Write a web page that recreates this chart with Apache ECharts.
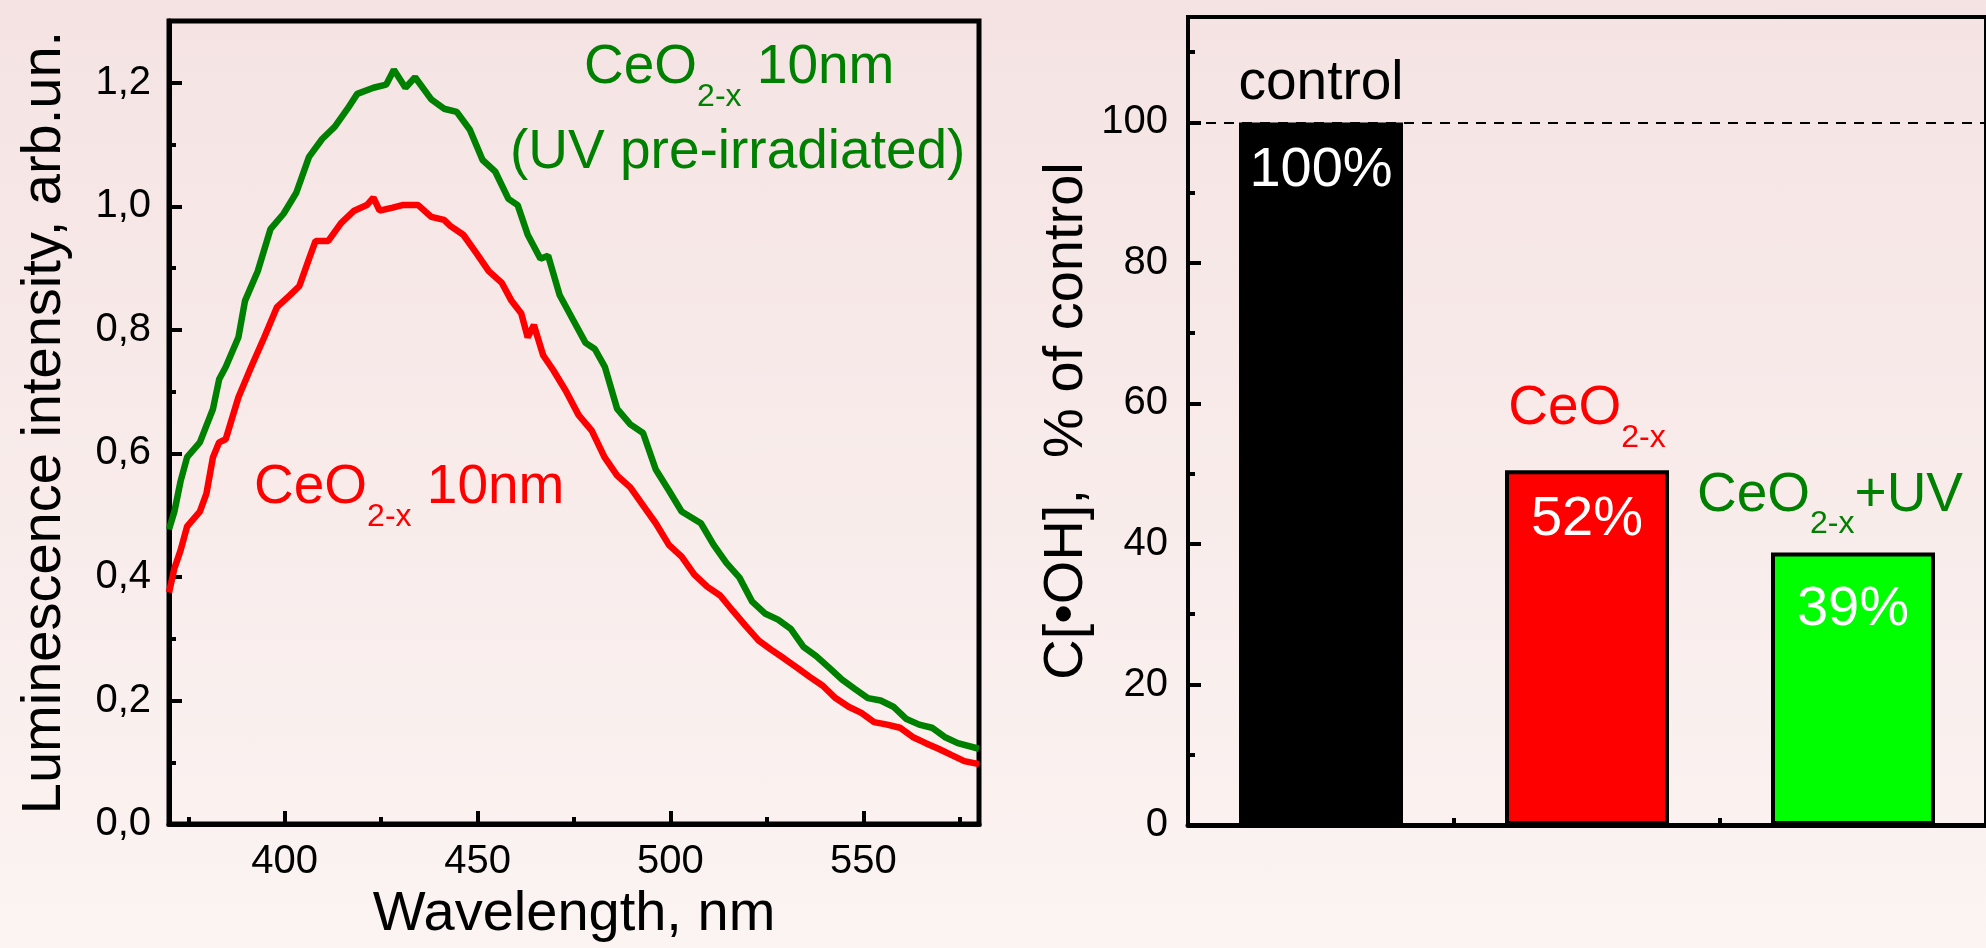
<!DOCTYPE html>
<html>
<head>
<meta charset="utf-8">
<script src="https://cdn.jsdelivr.net/npm/echarts@6/dist/echarts.min.js"></script>
<style>
html,body{margin:0;padding:0;}
body{background:linear-gradient(to bottom,#f5e3e3,#fbf4f2);}
#chart{width:1986px;height:948px;}
</style>
</head>
<body>
<div id="chart"></div>
<script>
// ---------- data ----------
const wlGreen = [370,371.4,373,374.7,378,381.4,383,384.7,388,389.7,393,396.3,399.7,403,406.3,409.7,413,416.3,418.8,423,426.3,428.3,431.3,433.8,438,441.3,444.6,448,451.3,454.6,458,460.4,463,466.3,468.3,471.3,474.6,478,480.4,483,486.2,489.6,492.9,496.2,499.6,502.9,507.9,511.2,514.5,517.9,521.2,524.5,527.9,531.2,534.5,537.8,541.2,544.5,547.8,551.2,554.5,557.8,561.2,564.5,567.8,571.1,574.5,580];
const valGreen = [0.477,0.506,0.555,0.594,0.618,0.672,0.72,0.74,0.788,0.847,0.895,0.963,0.988,1.022,1.080,1.109,1.129,1.158,1.182,1.192,1.197,1.221,1.192,1.209,1.173,1.158,1.153,1.124,1.075,1.056,1.012,1.002,0.954,0.915,0.92,0.856,0.818,0.779,0.769,0.74,0.672,0.647,0.633,0.574,0.540,0.506,0.487,0.452,0.423,0.399,0.360,0.341,0.331,0.316,0.287,0.272,0.253,0.234,0.219,0.204,0.2,0.19,0.17,0.161,0.156,0.141,0.131,0.122];
const wlRed = [370,371.4,373,374.7,378,379.7,381.4,383,384.7,388,391.3,394.7,398,401.3,403.8,406.3,408,411.3,414.6,418,421.3,423,424.6,428,430.5,434.6,438,441.3,443,446.3,449.6,452.9,456.3,458.8,461.3,463,464.6,467,469.6,472.9,476.2,479.6,482.9,486.2,489.6,492.9,496.2,499.6,502.9,506.2,509.6,512.9,516.2,519.5,522.9,526.2,529.5,532.9,536.2,539.5,542.8,546.2,549.5,552.8,556.2,559.5,562.8,566.2,569.5,572.8,576.2,580];
const valRed = [0.375,0.414,0.443,0.482,0.506,0.535,0.594,0.618,0.623,0.691,0.74,0.788,0.837,0.856,0.871,0.915,0.944,0.944,0.973,0.993,1.002,1.014,0.993,0.998,1.002,1.002,0.983,0.978,0.968,0.954,0.925,0.895,0.876,0.847,0.827,0.788,0.808,0.759,0.735,0.701,0.662,0.637,0.594,0.564,0.545,0.516,0.487,0.452,0.433,0.404,0.384,0.370,0.345,0.321,0.297,0.282,0.268,0.253,0.238,0.224,0.204,0.19,0.18,0.165,0.161,0.156,0.141,0.131,0.122,0.112,0.102,0.097];

const xMajorTicks = [400,450,500,550];
const xMinorTicks = [375,425,475,525,575];
const yMajorTicks = [0,0.2,0.4,0.6,0.8,1.0,1.2];
const yMinorTicks = [0.1,0.3,0.5,0.7,0.9,1.1];

const barCategories = ['control','CeO2-x','CeO2-x+UV'];
const barValues = [100,50.5,38.8];
const barPctLabels = ['100%','52%','39%'];
const barYMajorTicks = [0,20,40,60,80,100];
const barYMinorTicks = [10,30,50,70,90,110];
const referenceLevel = 100;

// ---------- styles ----------
const FONT = '"Liberation Sans", Arial, Helvetica, sans-serif';
const barColors = ['#000000','#ff0000','#00ff00'];
const nameColors = ['#000000','#ff0000','#008000'];
const nameRichText = ['{m|control}','{m|CeO}{s|2-x}','{m|CeO}{s|2-x}{m|+UV}'];
const nameDistances = [9,31,27];
const nameOffsets = [[0,0],[0,0],[-23,0]];
const pctDistances = [18,19,27.5];

// rich styles for series labels (ECharts option style)
function rich(color){
  return {
    m:{fontSize:55,lineHeight:60,color:color,fontFamily:FONT},
    s:{fontSize:32,lineHeight:60,padding:[58,0,0,0],color:color,fontFamily:FONT}
  };
}
// rich styles for graphic text elements (zrender style)
function richG(color){
  return {
    m:{fontSize:55,lineHeight:60,fill:color,fontFamily:FONT},
    s:{fontSize:32,lineHeight:60,padding:[58,0,0,0],fill:color,fontFamily:FONT}
  };
}
const axisLineStyle = {show:true,lineStyle:{color:'#000',width:5}};
const labelStyle = {color:'#000',fontSize:40,fontFamily:FONT};
const nameStyle = {color:'#000',fontSize:56,fontFamily:FONT};

const chart = echarts.init(document.getElementById('chart'), null, {renderer:'canvas'});

const option = {
  backgroundColor:'transparent',
  animation:false,
  grid:[
    {left:169,top:21,width:810,height:808,show:true,borderColor:'#000',borderWidth:5,backgroundColor:'transparent'},
    {left:1188,top:17,width:810,height:808,show:true,borderColor:'#000',borderWidth:4,backgroundColor:'transparent'}
  ],
  xAxis:[
    {type:'value',gridIndex:0,min:370,max:580,position:'bottom',
     axisLine:axisLineStyle,
     axisTick:{show:true,inside:true,length:13,lineStyle:{color:'#000',width:4},customValues:xMajorTicks},
     axisLabel:Object.assign({show:true,margin:18,customValues:xMajorTicks},labelStyle),
     splitLine:{show:false},
     name:'Wavelength, nm',nameLocation:'middle',nameGap:58,nameTextStyle:nameStyle},
    {type:'value',gridIndex:0,min:370,max:580,position:'bottom',
     axisLine:{show:false},
     axisTick:{show:true,inside:true,length:7,lineStyle:{color:'#000',width:4},customValues:xMinorTicks},
     axisLabel:{show:false},splitLine:{show:false}},
    {type:'category',gridIndex:1,data:barCategories,position:'bottom',boundaryGap:true,
     axisLine:axisLineStyle,
     axisTick:{show:true,inside:true,length:7,alignWithLabel:false,lineStyle:{color:'#000',width:4}},
     axisLabel:{show:false},splitLine:{show:false}}
  ],
  yAxis:[
    {type:'value',gridIndex:0,min:0,max:1.3,position:'left',
     axisLine:axisLineStyle,
     axisTick:{show:true,inside:true,length:13,lineStyle:{color:'#000',width:4},customValues:yMajorTicks},
     axisLabel:Object.assign({show:true,margin:18,customValues:yMajorTicks,
       formatter:function(v){return v.toFixed(1).replace('.',',');}},labelStyle),
     splitLine:{show:false},
     name:'Luminescence intensity, arb.un.',nameLocation:'middle',nameGap:96,nameTextStyle:nameStyle},
    {type:'value',gridIndex:0,min:0,max:1.3,position:'left',
     axisLine:{show:false},
     axisTick:{show:true,inside:true,length:7,lineStyle:{color:'#000',width:4},customValues:yMinorTicks},
     axisLabel:{show:false},splitLine:{show:false}},
    {type:'value',gridIndex:1,min:0,max:115,position:'left',
     axisLine:{show:true,lineStyle:{color:'#000',width:4}},
     axisTick:{show:true,inside:true,length:13,lineStyle:{color:'#000',width:4},customValues:barYMajorTicks},
     axisLabel:Object.assign({show:true,margin:20,customValues:barYMajorTicks},labelStyle),
     splitLine:{show:false},
     name:'C[\u2022OH],  % of control',nameLocation:'middle',nameGap:93,nameTextStyle:nameStyle},
    {type:'value',gridIndex:1,min:0,max:115,position:'left',
     axisLine:{show:false},
     axisTick:{show:true,inside:true,length:7,lineStyle:{color:'#000',width:4},customValues:barYMinorTicks},
     axisLabel:{show:false},splitLine:{show:false}}
  ],
  series:[
    {type:'line',xAxisIndex:0,yAxisIndex:0,showSymbol:false,symbol:'none',
     data:wlGreen.map(function(x,i){return [x,valGreen[i]];}),
     lineStyle:{color:'#008000',width:6.5},z:3},
    {type:'line',xAxisIndex:0,yAxisIndex:0,showSymbol:false,symbol:'none',
     data:wlRed.map(function(x,i){return [x,valRed[i]];}),
     lineStyle:{color:'#ff0000',width:6.5},z:3},
    {type:'bar',xAxisIndex:2,yAxisIndex:2,barWidth:164,barGap:'-100%',
     data:barValues.map(function(v,i){return {value:v,
        itemStyle:{color:barColors[i],borderColor:'#000',borderWidth:4},
        label:{distance:pctDistances[i]}};}),
     label:{show:true,position:'insideTop',color:'#fff',fontSize:56,lineHeight:60,fontFamily:FONT,
       formatter:function(p){return barPctLabels[p.dataIndex];}},
     markLine:{silent:true,symbol:'none',label:{show:false},
       lineStyle:{color:'#000',width:2,type:[10,8]},
       data:[{yAxis:referenceLevel}]},
     z:2},
    {type:'bar',xAxisIndex:2,yAxisIndex:2,barWidth:164,barGap:'-100%',silent:true,
     data:barValues.map(function(v,i){return {value:v,
        itemStyle:{color:'rgba(0,0,0,0)',borderWidth:0},
        label:{distance:nameDistances[i],offset:nameOffsets[i],rich:rich(nameColors[i])}};}),
     label:{show:true,position:'top',formatter:function(p){return nameRichText[p.dataIndex];}},
     z:4}
  ],
  graphic:[
    {type:'text',x:584,y:38,z:10,style:{text:'{m|CeO}{s|2-x}{m| 10nm}',rich:richG('#008000'),fill:'#008000',font:'55px '+FONT,verticalAlign:'top',align:'left'}},
    {type:'text',x:510,y:123,z:10,style:{text:'(UV pre-irradiated)',fill:'#008000',fontSize:55,lineHeight:60,fontFamily:FONT,verticalAlign:'top',align:'left'}},
    {type:'text',x:254,y:458,z:10,style:{text:'{m|CeO}{s|2-x}{m| 10nm}',rich:richG('#ff0000'),fill:'#ff0000',font:'55px '+FONT,verticalAlign:'top',align:'left'}}
  ]
};
chart.setOption(option);
</script>
</body>
</html>
